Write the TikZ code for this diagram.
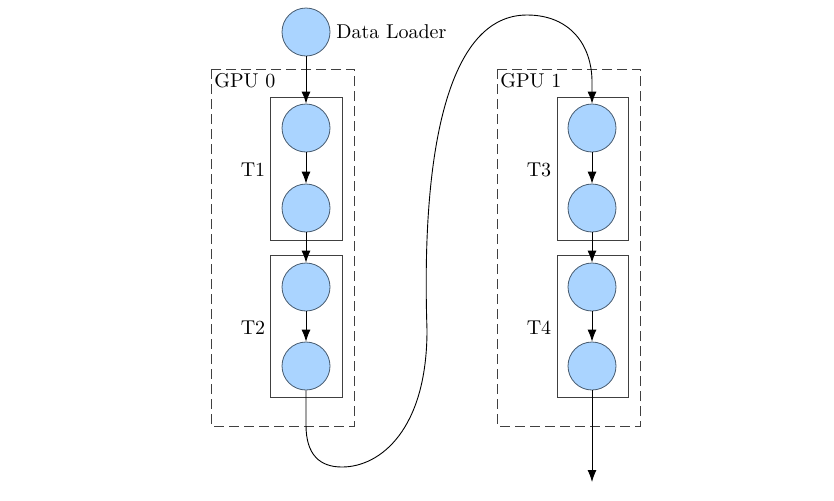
\documentclass[tikz,border=0pt]{standalone}
\usetikzlibrary{arrows.meta}
\definecolor{cfill}{RGB}{170,212,255}
\definecolor{cdraw}{RGB}{70,90,110}
\begin{document}
\begin{tikzpicture}[x=0.5pt,y=0.5pt,
  unit/.style={circle,fill=cfill,draw=cdraw,line width=0.4pt,minimum size=24pt,inner sep=0pt},
  taskbox/.style={draw=black!75,line width=0.5pt},
  gpubox/.style={draw=black!75,line width=0.5pt,dash pattern=on 5pt off 2.5pt},
  conn/.style={line width=0.45pt,-{Latex[length=6pt,width=4.5pt]}},
  lbl/.style={inner sep=0pt}]
\useasboundingbox (0,0) rectangle (834,-500);
% GPU boxes
\draw[gpubox] (211,-69) rectangle (354,-426);
\draw[gpubox] (497,-69) rectangle (640,-426);
\node[lbl,anchor=base west] (g0) at (214,-87) {GPU 0};
\node[lbl,anchor=base west] (g1) at (500,-87) {GPU 1};
% task boxes
\draw[taskbox] (270,-97) rectangle (342,-240);
\draw[taskbox] (270,-255) rectangle (342,-397);
\draw[taskbox] (557,-97) rectangle (628,-240);
\draw[taskbox] (557,-255) rectangle (628,-397);
\node[lbl] (t1) at (253,-170) {T1};
\node[lbl] (t2) at (253,-328) {T2};
\node[lbl] (t3) at (539,-170) {T3};
\node[lbl] (t4) at (539,-328) {T4};
% nodes
\node[unit] (dl) at (306,-32) {};
\node[lbl,anchor=west] (dlt) at (336,-32) {Data Loader};
\node[unit] (a1) at (306,-128) {};
\node[unit] (a2) at (306,-208) {};
\node[unit] (a3) at (306,-287) {};
\node[unit] (a4) at (306,-366) {};
\node[unit] (b1) at (592,-128) {};
\node[unit] (b2) at (592,-208) {};
\node[unit] (b3) at (592,-287) {};
\node[unit] (b4) at (592,-366) {};
\coordinate (out) at (592,-482);
% connectors
\draw[conn] (dl) -- (a1);
\draw[conn] (a1) -- (a2);
\draw[conn] (a2) -- (a3);
\draw[conn] (a3) -- (a4);
\draw[conn] (b1) -- (b2);
\draw[conn] (b2) -- (b3);
\draw[conn] (b3) -- (b4);
\draw[conn] (b4) -- (out);
\draw[conn] (a4.south) -- (306,-425)
  .. controls (306,-455) and (320,-467) .. (342,-467)
  .. controls (380,-467) and (427,-430) .. (427,-330)
  .. controls (421,-150) and (448,-15) .. (527,-15)
  .. controls (570,-15) and (592,-45) .. (592,-82)
  -- (b1.north);
\end{tikzpicture}
\end{document}
